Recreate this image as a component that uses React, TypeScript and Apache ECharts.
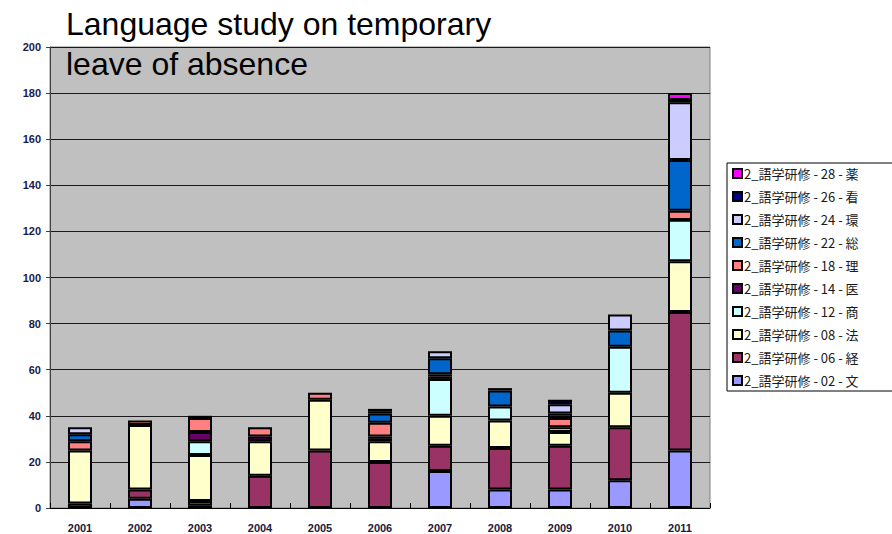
import React, { useEffect, useRef } from "react";
import * as echarts from "echarts";

const years = ["2001", "2002", "2003", "2004", "2005", "2006", "2007", "2008", "2009", "2010", "2011"];

const s02 = [0, 4, 1, 0, 0, 0, 16, 8, 8, 12, 25];
const s06 = [2, 4, 2, 14, 25, 20, 11, 18, 19, 23, 60];
const s08 = [23, 28, 20, 15, 22, 9, 13, 12, 6, 15, 22];
const s12 = [0, 0, 6, 0, 0, 1, 16, 6, 2, 20, 18];
const s14 = [0, 0, 4, 2, 0, 1, 1, 0, 0, 0, 0];
const s18 = [4, 2, 6, 4, 3, 6, 1, 0, 4, 0, 4];
const s22 = [3, 0, 0, 0, 0, 4, 7, 7, 2, 7, 22];
const s24 = [3, 0, 0, 0, 0, 1, 3, 0, 4, 7, 25];
const s26 = [0, 0, 1, 0, 0, 1, 0, 1, 2, 0, 1];
const s28 = [0, 0, 0, 0, 0, 0, 0, 0, 0, 0, 3];

const seriesNames = [
  "2_語学研修 - 02 - 文",
  "2_語学研修 - 06 - 経",
  "2_語学研修 - 08 - 法",
  "2_語学研修 - 12 - 商",
  "2_語学研修 - 14 - 医",
  "2_語学研修 - 18 - 理",
  "2_語学研修 - 22 - 総",
  "2_語学研修 - 24 - 環",
  "2_語学研修 - 26 - 看",
  "2_語学研修 - 28 - 薬",
];
const seriesData = [s02, s06, s08, s12, s14, s18, s22, s24, s26, s28];
const seriesColors = [
  "#9999FF",
  "#993366",
  "#FFFFCC",
  "#CCFFFF",
  "#660066",
  "#FF8080",
  "#0066CC",
  "#CCCCFF",
  "#000080",
  "#FF00FF",
];

const yTicks = [0, 20, 40, 60, 80, 100, 120, 140, 160, 180, 200];

export default function App() {
  const ref = useRef<HTMLDivElement>(null);

  useEffect(() => {
    document.body.style.margin = "0";
    if (!ref.current) return;
    const chart = echarts.init(ref.current, null, { renderer: "svg" });
    const option = {
      animation: false,
      backgroundColor: "#ffffff",
      title: {
        text: "Language study on temporary\nleave of absence",
        left: 66,
        top: 4,
        padding: 0,
        textStyle: {
          fontFamily: "Liberation Sans, Arial, sans-serif",
          fontSize: 32,
          fontWeight: "normal",
          lineHeight: 40,
          color: "#000000",
        },
        z: 10,
      },
      legend: {
        orient: "vertical",
        left: 727,
        top: 163,
        data: seriesNames.slice().reverse(),
        itemWidth: 9,
        itemHeight: 9,
        itemGap: 10,
        padding: [4, 60, 4, 5],
        backgroundColor: "#ffffff",
        borderColor: "#000000",
        borderWidth: 1,
        icon: "rect",
        textStyle: {
          fontFamily: "Noto Sans CJK JP, sans-serif",
          fontSize: 13,
          color: "#1a1a1a",
          padding: [0, 0, 0, -3],
        },
      },
      grid: {
        left: 50,
        right: 182,
        top: 47,
        bottom: 26,
        show: true,
        backgroundColor: "#C0C0C0",
        borderColor: "#808080",
        borderWidth: 1,
      },
      xAxis: {
        type: "category",
        data: years,
        axisLine: { show: true, lineStyle: { color: "#000000", width: 1 } },
        axisTick: { show: true, inside: true, length: 5, lineStyle: { color: "#000000" } },
        axisLabel: {
          margin: 14,
          fontSize: 11,
          fontWeight: "bold",
          fontFamily: "Liberation Sans, Arial, sans-serif",
          color: "#1a1a3a",
        },
      },
      yAxis: {
        type: "value",
        min: yTicks[0],
        max: yTicks[yTicks.length - 1],
        interval: 20,
        axisLine: { show: true, lineStyle: { color: "#404040", width: 1 } },
        axisTick: { show: true, length: 4, lineStyle: { color: "#404040" } },
        splitLine: { show: true, lineStyle: { color: "#1a1a1a", width: 1 } },
        axisLabel: {
          margin: 9,
          fontSize: 11,
          fontWeight: "bold",
          fontFamily: "Liberation Sans, Arial, sans-serif",
          color: "#1a1a4a",
        },
      },
      series: seriesNames.map((name, i) => ({
        name,
        type: "bar",
        stack: "total",
        barWidth: 24,
        data: seriesData[i].map((v) => (v === 0 ? "-" : v)),
        itemStyle: {
          color: seriesColors[i],
          borderColor: "#000000",
          borderWidth: 2,
        },
      })),
    };
    chart.setOption(option as any);
    return () => chart.dispose();
  }, []);

  return <div ref={ref} style={{ width: 892, height: 534 }} />;
}
